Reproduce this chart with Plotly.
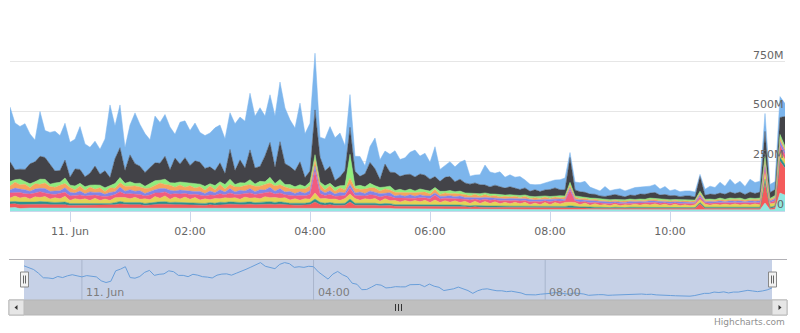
import pandas as pd
import plotly.graph_objects as go

# 5-minute samples, 10 Jun 23:00 -> 11 Jun 11:55
times = pd.date_range("2014-06-10 23:00", periods=156, freq="5min")

# Series values in millions
blue = [275,235,215,230,150,110,225,135,160,200,175,185,
        175,150,215,165,130,125,125,160,365,165,215,115,
        150,255,210,195,140,235,205,210,215,120,210,185,
        175,190,150,165,170,215,190,175,185,235,215,235,
        285,260,295,200,240,260,300,280,235,215,295,220,
        240,285,100,160,200,215,220,125,165,75,100,40,
        80,155,100,65,90,110,85,85,110,135,90,110,
        85,150,60,60,75,75,85,115,40,40,50,100,
        75,60,75,55,60,55,65,40,35,25,35,35,
        40,40,50,60,25,40,45,55,35,25,25,50,
        25,25,35,30,30,40,35,40,35,40,30,40,
        25,30,25,25,25,25,10,30,40,35,55,40,
        65,45,55,40,65,55,55,90,40,40,105,65]

dark = [100,50,50,60,100,100,115,110,100,60,60,90,
        40,85,70,50,60,95,55,85,40,125,150,65,
        135,100,85,70,80,90,85,115,65,125,90,125,
        90,115,110,90,85,75,95,55,150,70,115,75,
        150,80,75,130,175,80,190,105,90,80,115,45,
        55,225,125,75,85,35,45,75,135,75,45,65,
        105,85,40,115,70,90,65,80,75,70,75,75,
        60,55,50,70,70,50,60,50,45,50,45,40,
        35,45,40,35,40,35,30,35,25,35,25,30,
        35,40,30,30,125,30,25,25,20,20,15,15,
        20,25,20,15,20,20,25,25,25,30,20,25,
        20,20,15,20,20,15,75,20,25,25,25,25,
        30,25,30,25,30,25,30,125,30,30,85,150]

green = [22,12,28,14,20,10,26,18,12,22,14,28,
         12,20,14,18,10,22,13,19,11,24,26,14,
         22,12,20,11,22,25,14,27,12,22,15,24,
         12,22,13,20,11,21,14,22,26,12,22,13,
         25,12,24,14,28,12,26,13,20,11,21,12,
         20,28,13,21,12,19,10,22,120,11,20,12,
         22,11,18,10,20,9,16,10,17,9,17,10,
         15,9,16,8,16,9,15,8,14,7,13,8,
         12,7,12,6,12,6,11,7,11,5,10,6,
         10,6,11,6,14,6,10,5,9,5,8,5,
         8,4,8,5,8,4,8,5,9,5,8,4,
         8,4,8,5,7,4,10,5,8,4,9,5,
         9,5,9,4,9,5,9,20,5,10,20,15]

orange = [20,30,22,28,18,27,20,28,24,17,28,21,
          24,16,25,17,24,16,23,14,24,17,22,26,
          18,27,18,25,17,20,28,20,26,18,26,17,
          25,17,24,16,26,15,26,16,20,25,16,27,
          19,27,18,28,22,27,19,25,15,23,14,22,
          24,30,26,15,25,14,23,15,30,23,14,22,
          16,24,13,22,13,19,12,18,11,18,12,19,
          10,18,9,17,10,16,10,15,9,15,8,15,
          8,14,7,13,7,13,6,13,6,12,6,12,
          6,12,6,12,14,12,6,11,5,10,4,9,
          4,8,4,8,4,8,4,8,5,9,4,8,
          4,8,4,8,4,8,8,8,4,8,5,8,
          5,9,5,8,5,9,5,15,9,6,15,12]

purple = [15,22,17,20,14,20,17,22,14,19,14,23,
          18,13,19,12,19,13,18,11,18,14,23,14,
          20,14,19,12,19,16,22,17,20,14,20,14,
          19,14,19,12,19,13,20,13,22,13,20,14,
          22,14,20,15,23,14,22,13,19,12,19,12,
          19,25,20,13,19,11,18,13,20,13,18,12,
          19,13,17,12,18,10,16,10,16,10,16,10,
          14,10,14,10,14,10,14,9,12,9,12,9,
          12,8,12,8,12,8,11,8,11,7,11,7,
          11,7,11,7,12,7,11,6,10,6,9,5,
          9,5,9,5,9,5,9,5,10,6,9,5,
          9,5,9,5,9,5,11,5,9,5,10,5,
          10,6,10,5,10,6,10,20,6,11,20,15]

pink = [26,18,28,17,25,19,29,18,25,16,27,20,
        23,15,24,14,24,16,23,13,22,16,29,17,
        26,16,24,15,23,18,27,20,25,17,25,18,
        24,16,24,15,24,16,26,15,27,16,25,17,
        27,16,26,18,29,17,27,15,24,14,24,15,
        24,110,26,15,24,14,23,15,30,15,23,14,
        24,16,21,15,22,12,20,11,20,11,20,12,
        18,26,17,12,19,11,18,10,17,11,16,11,
        16,10,15,9,15,9,14,9,14,8,14,8,
        14,8,14,8,60,8,13,7,12,6,11,6,
        10,6,10,6,10,6,10,6,11,7,10,6,
        10,6,10,6,10,6,12,6,10,6,11,6,
        11,7,11,6,11,7,11,30,7,12,30,25]

yellow = [18,27,20,26,17,26,20,27,17,24,17,29,
          15,24,16,23,15,24,15,22,15,25,20,25,
          17,26,16,23,16,27,18,29,16,26,17,26,
          16,25,16,23,15,24,17,24,18,24,16,26,
          18,25,17,26,20,25,18,24,16,23,15,23,
          16,30,17,24,16,22,15,24,25,24,15,23,
          17,24,14,24,15,21,13,21,14,21,14,22,
          13,23,13,22,14,21,13,21,12,21,12,21,
          13,21,12,20,12,20,12,20,11,19,11,20,
          11,20,12,20,18,20,11,19,10,18,10,16,
          9,16,9,15,10,16,10,16,11,17,10,16,
          9,16,9,15,9,15,15,16,10,16,11,16,
          11,17,11,16,11,17,11,30,17,14,30,25]

teal = [12,12,13,11,11,12,13,12,11,11,12,13,
        10,10,11,10,10,11,10,10,10,11,13,11,
        12,11,11,10,11,12,12,13,11,12,11,12,
        11,11,10,10,11,10,12,11,12,11,11,12,
        12,11,12,12,13,11,12,11,10,10,10,10,
        11,15,12,10,11,10,10,10,15,10,10,10,
        11,10,9,10,9,8,8,8,8,8,8,8,
        8,9,8,8,8,8,8,7,7,7,7,7,
        7,7,7,7,7,7,7,7,6,6,6,7,
        6,7,7,7,8,7,6,6,6,6,6,5,
        5,6,5,5,6,6,6,6,6,6,6,6,
        5,6,5,5,5,5,7,6,6,6,6,6,
        6,6,6,6,6,6,6,20,6,7,20,18]

red = [19,19,20,18,17,18,20,19,17,17,18,20,
       15,16,17,15,16,17,15,15,15,17,20,17,
       18,17,17,15,17,19,19,20,17,18,17,18,
       17,17,16,15,17,16,18,17,19,17,17,18,
       19,17,18,19,20,17,19,17,16,15,16,15,
       17,30,18,16,17,15,15,16,30,16,15,15,
       17,16,14,15,15,13,13,13,13,13,13,13,
       12,13,12,12,12,12,12,11,10,11,10,11,
       10,10,9,9,9,9,9,9,8,8,8,9,
       8,9,9,9,10,9,8,8,7,7,7,6,
       6,7,6,6,7,7,7,7,7,7,7,7,
       6,7,6,6,6,6,30,7,7,7,7,7,
       7,7,7,7,7,7,7,100,7,10,160,135]

cyan = [16,17,12,15,15,15,15,15,15,15,14,12,
        13,12,13,13,12,12,13,13,13,14,15,15,
        14,15,15,13,13,15,15,14,15,14,15,14,
        15,15,13,13,14,13,14,15,15,15,15,14,
        15,14,14,15,14,15,15,15,13,14,13,14,
        15,15,14,13,15,13,13,13,15,13,14,14,
        13,13,12,13,13,11,11,11,11,11,11,11,
        10,10,10,10,10,10,10,10,9,10,9,9,
        8,8,8,8,8,8,8,8,7,7,7,7,
        7,7,7,7,8,7,7,7,6,6,6,6,
        6,6,6,6,6,6,6,6,6,6,6,6,
        6,6,6,6,6,6,6,6,6,6,6,6,
        6,6,6,6,6,6,6,40,6,8,90,80]

y_ticks = [0, 250, 500, 750, 1000]
y_labels = ["0", "250M", "500M", "750M", ""]
x_tick_times = ["2014-06-11 00:00", "2014-06-11 02:00", "2014-06-11 04:00",
                "2014-06-11 06:00", "2014-06-11 08:00", "2014-06-11 10:00"]
x_tick_labels = ["11. Jun", "02:00", "04:00", "06:00", "08:00", "10:00"]
nav_tick_times = ["2014-06-11 00:00", "2014-06-11 04:00", "2014-06-11 08:00"]
nav_tick_labels = ["11. Jun", "04:00", "08:00"]

# bottom-to-top stacking order
stack = [
    ("cyan", cyan, "#91e8e1"),
    ("red", red, "#f45b5b"),
    ("teal", teal, "#2b908f"),
    ("yellow", yellow, "#e4d354"),
    ("pink", pink, "#f15c80"),
    ("purple", purple, "#8085e9"),
    ("orange", orange, "#f7a35c"),
    ("green", green, "#90ed7d"),
    ("dark", dark, "#434348"),
    ("blue", blue, "#7cb5ec"),
]

W, H = 800, 333
def px(x):
    return x / W
def py(y):
    return 1 - y / H

FONT = "DejaVu Sans"

fig = go.Figure()
for name, vals, col in stack:
    assert len(vals) == len(times), name
    fig.add_trace(go.Scatter(
        x=times, y=vals, name=name, mode="lines", stackgroup="main",
        line=dict(width=0.5, color=col), fillcolor=col,
        hoverinfo="skip", showlegend=False, xaxis="x", yaxis="y"))

# navigator shows the first series, grouped (averaged) like a stock navigator
nav_vals = pd.Series(blue).rolling(3, center=True, min_periods=1).mean()
fig.add_trace(go.Scatter(
    x=times, y=nav_vals, mode="lines", line=dict(width=1, color="#6a9fda"),
    hoverinfo="skip", showlegend=False, xaxis="x2", yaxis="y2"))

shapes = []
# navigator mask
shapes.append(dict(type="rect", xref="paper", yref="paper",
                   x0=px(24), x1=px(772), y0=py(300), y1=py(259.5),
                   fillcolor="#c6d1e7", line=dict(width=0), layer="below"))
# navigator grid lines
for t in nav_tick_times:
    shapes.append(dict(type="line", xref="x2", yref="paper", x0=t, x1=t,
                       y0=py(300), y1=py(259.5),
                       line=dict(color="#a9b5cc", width=1), layer="below"))
# navigator outline
shapes.append(dict(type="line", xref="paper", yref="paper",
                   x0=px(9), x1=px(787), y0=py(259.5), y1=py(259.5),
                   line=dict(color="#b2b1b6", width=1)))
# scrollbar track / bar
shapes.append(dict(type="rect", xref="paper", yref="paper",
                   x0=px(9), x1=px(787), y0=py(315), y1=py(300),
                   fillcolor="#bfbfbf", line=dict(color="#b5b5b5", width=1)))
# scrollbar buttons
for x0, x1 in [(9, 24), (772, 787)]:
    shapes.append(dict(type="rect", xref="paper", yref="paper",
                       x0=px(x0), x1=px(x1), y0=py(315), y1=py(300),
                       fillcolor="#e6e6e6", line=dict(color="#bbbbbb", width=1)))

def tri(pts):
    return "M " + " L ".join(f"{px(a)},{py(b)}" for a, b in pts) + " Z"

shapes.append(dict(type="path", xref="paper", yref="paper",
                   path=tri([(14.5, 307.5), (17.5, 305), (17.5, 310)]),
                   fillcolor="#333333", line=dict(width=0)))
shapes.append(dict(type="path", xref="paper", yref="paper",
                   path=tri([(781.5, 307.5), (778.5, 305), (778.5, 310)]),
                   fillcolor="#333333", line=dict(width=0)))
# scrollbar grip
for gx in (395.5, 398.5, 401.5):
    shapes.append(dict(type="line", xref="paper", yref="paper",
                       x0=px(gx), x1=px(gx), y0=py(304), y1=py(311),
                       line=dict(color="#333333", width=1)))
# navigator handles
for hx in (20.5, 768.5):
    shapes.append(dict(type="rect", xref="paper", yref="paper",
                       x0=px(hx), x1=px(hx + 8), y0=py(287), y1=py(272),
                       fillcolor="#f2f2f2", line=dict(color="#888888", width=1)))
    for lx in (hx + 3, hx + 5):
        shapes.append(dict(type="line", xref="paper", yref="paper",
                           x0=px(lx), x1=px(lx), y0=py(283.5), y1=py(275.5),
                           line=dict(color="#666666", width=1)))

annotations = []
for v, lab in zip(y_ticks, y_labels):
    if lab:
        annotations.append(dict(text=lab, x=1, xref="x domain", y=v, yref="y",
                                xanchor="right", yanchor="middle", xshift=1, yshift=6.5,
                                showarrow=False, font=dict(family=FONT, size=11, color="#666666")))
for t, lab in zip(nav_tick_times, nav_tick_labels):
    annotations.append(dict(text=lab, x=t, xref="x2", y=py(292), yref="paper",
                            xanchor="left", yanchor="middle", xshift=2,
                            showarrow=False, font=dict(family=FONT, size=11, color="#7d7d7d")))
annotations.append(dict(text="Highcharts.com", x=px(787), xref="paper", y=py(322), yref="paper",
                        xanchor="right", yanchor="middle", showarrow=False,
                        font=dict(family=FONT, size=9, color="#909090")))

fig.update_layout(
    width=W, height=H, autosize=False,
    margin=dict(l=0, r=0, t=0, b=0, pad=0),
    paper_bgcolor="white", plot_bgcolor="white",
    showlegend=False,
    xaxis=dict(domain=[px(10), px(785)], range=[times[0], times[-1]],
               tickvals=x_tick_times, ticktext=x_tick_labels,
               ticks="outside", ticklen=10, tickcolor="#ccd6eb", tickwidth=1,
               showline=True, linecolor="#ccd6eb", linewidth=1,
               showgrid=False, zeroline=False, anchor="y",
               tickfont=dict(family=FONT, size=11, color="#666666")),
    yaxis=dict(domain=[py(211), py(12)], range=[0, 1000],
               tickvals=y_ticks, showticklabels=False, ticks="",
               showgrid=True, gridcolor="#e6e6e6", gridwidth=1,
               zeroline=False, showline=False, anchor="x"),
    xaxis2=dict(domain=[px(24), px(772)], range=[times[0], times[-1]],
                showticklabels=False, ticks="", showgrid=False, zeroline=False,
                showline=False, anchor="y2"),
    yaxis2=dict(domain=[py(299), py(260)], range=[0, 300], visible=False,
                anchor="x2"),
    shapes=shapes, annotations=annotations,
)

fig.write_html("out.html", config={"displayModeBar": False})
